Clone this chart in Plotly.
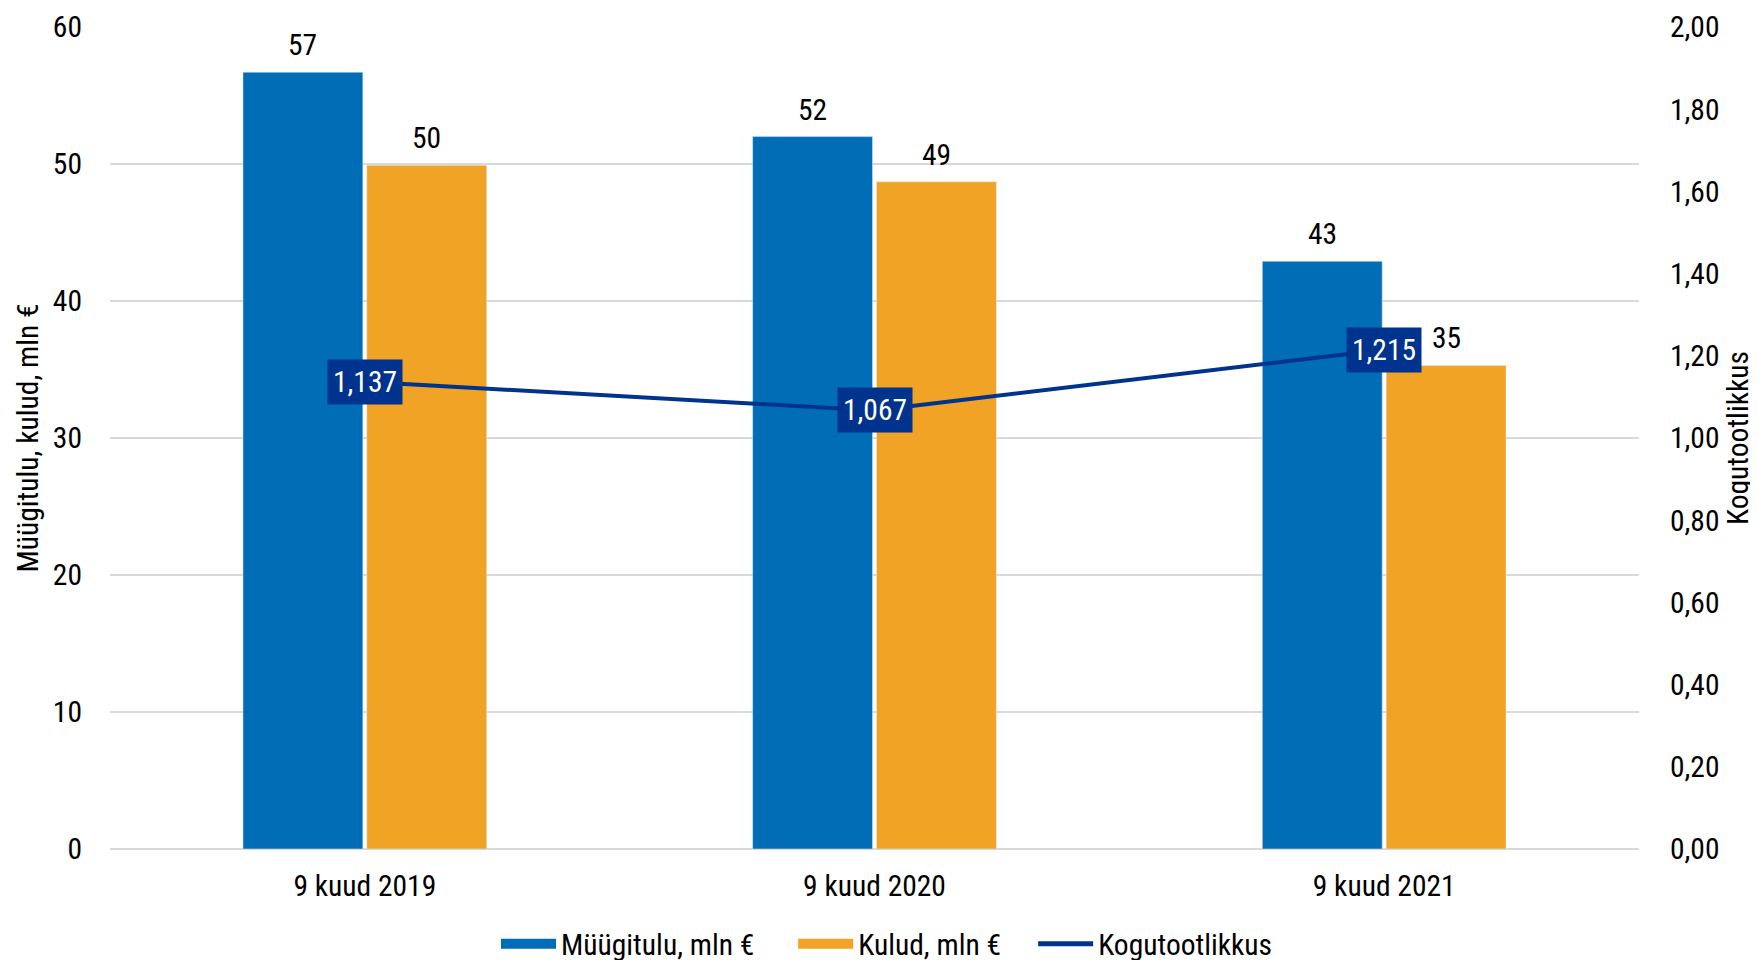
import plotly.graph_objects as go

categories = ["9 kuud 2019", "9 kuud 2020", "9 kuud 2021"]
revenue = [56.7, 52.0, 42.9]
costs = [49.9, 48.7, 35.3]
productivity = [1.137, 1.067, 1.215]
productivity_labels = ["1,137", "1,067", "1,215"]
series_names = ["Müügitulu, mln €", "Kulud, mln €", "Kogutootlikkus"]

BLUE = "#006DB6"
ORANGE = "#F0A324"
NAVY = "#00338D"
FONT = "Roboto Condensed, Roboto, sans-serif"
FS = 29.5
BAR_SLOT_PX = 62  # half of one bar slot inside a group, in px

fig = go.Figure()
fig.add_trace(go.Bar(
    x=categories, y=revenue, name=series_names[0], showlegend=False, legendgroup="a",
    marker=dict(color=BLUE),
))
fig.add_trace(go.Bar(
    x=categories, y=costs, name=series_names[1], showlegend=False, legendgroup="b",
    marker=dict(color=ORANGE),
))
fig.add_trace(go.Scatter(
    x=categories, y=productivity, name=series_names[2], yaxis="y2", showlegend=False,
    mode="lines", line=dict(color=NAVY, width=4),
))
# legend entries
fig.add_trace(go.Scatter(x=[None], y=[None], name=series_names[0] + "\u00a0" * 5, legendgroup="a",
                         mode="lines", line=dict(color=BLUE, width=17)))
fig.add_trace(go.Scatter(x=[None], y=[None], name=series_names[1] + "\u00a0" * 4, legendgroup="b",
                         mode="lines", line=dict(color=ORANGE, width=17)))
fig.add_trace(go.Scatter(x=[None], y=[None], name=series_names[2], yaxis="y2",
                         mode="lines", line=dict(color=NAVY, width=5)))

# bar value labels
for vals, shift in ((revenue, -BAR_SLOT_PX), (costs, BAR_SLOT_PX)):
    for c, v in zip(categories, vals):
        fig.add_annotation(
            x=c, y=v, text=f"{v:.0f}", showarrow=False, yanchor="bottom",
            xshift=shift, yshift=8, font=dict(color="#000000", size=FS, family=FONT),
        )

# productivity labels
for c, v, t in zip(categories, productivity, productivity_labels):
    fig.add_annotation(
        x=c, y=v, yref="y2", text=t, showarrow=False,
        bgcolor=NAVY, font=dict(color="white", size=FS, family=FONT),
        borderpad=5,
    )

fig.update_layout(
    width=1758, height=960,
    margin=dict(l=102, r=127, t=19, b=119),
    paper_bgcolor="white", plot_bgcolor="white",
    font=dict(family=FONT, size=FS, color="#000000"),
    barmode="group", bargap=0.514, bargroupgap=0.032,
    showlegend=True,
    legend=dict(orientation="h", x=0.5, xanchor="center", xref="container",
                y=0.025, yanchor="middle", yref="container",
                font=dict(size=FS), itemwidth=55, traceorder="normal", tracegroupgap=0),
    xaxis=dict(showgrid=False, ticks="", showline=False, zeroline=False, automargin=False,
               tickfont=dict(size=FS), ticklabelstandoff=16),
    yaxis=dict(range=[0, 60], dtick=10, showgrid=True, gridcolor="#D9D9D9", gridwidth=2,
               zeroline=True, zerolinecolor="#D9D9D9", zerolinewidth=2, ticks="", automargin=False,
               title=dict(text="Müügitulu, kulud, mln €", font=dict(size=FS), standoff=5),
               ticklabelstandoff=27),
    yaxis2=dict(range=[0, 2], dtick=0.2, overlaying="y", side="right", showgrid=False,
                zeroline=False, ticks="", tickformat=".2f", automargin=False,
                title=dict(text="Kogutootlikkus", font=dict(size=FS), standoff=8),
                ticklabelstandoff=30),
    separators=", ",
)

fig.write_html("out.html")
